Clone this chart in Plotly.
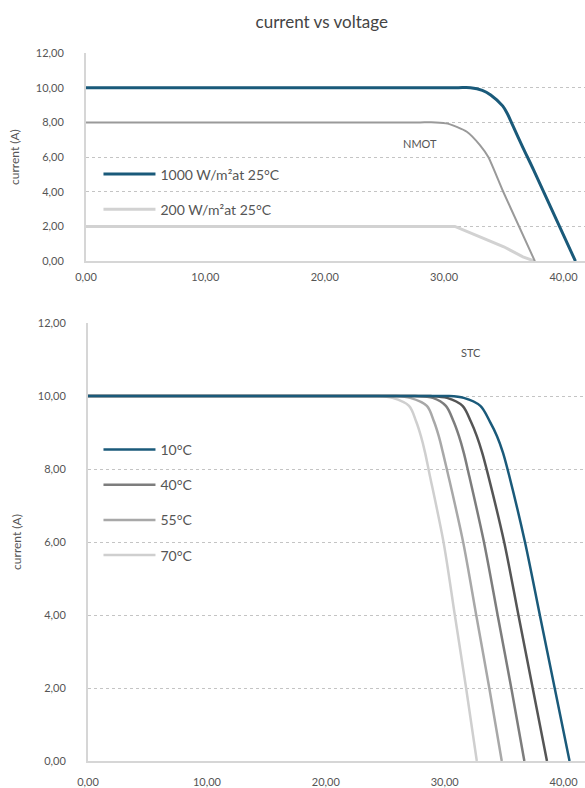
import plotly.graph_objects as go

# ---- top chart data (irradiance) ----
v_1000 = [0, 10, 20, 30, 31.2, 32.2, 33.2, 33.9, 34.9, 35.3, 35.7, 36.6, 37.5, 41.0]
i_1000 = [10, 10, 10, 10, 10, 10, 9.85, 9.58, 8.95, 8.5, 7.9, 6.55, 5.25, 0]
v_nmot = [0, 10, 20, 26.0, 28.0, 29.3, 30.3, 31.9, 33.0, 33.7, 34.95, 37.6]
i_nmot = [8, 8, 8, 8, 8, 8, 7.93, 7.46, 6.69, 6.0, 4.0, 0]
v_200 = [0, 30.9, 33.0, 35.0, 36.6, 37.6]
i_200 = [2, 2, 1.4, 0.83, 0.25, 0]

# ---- bottom chart data (temperature) ----
v_10 = [0, 10, 20, 28.8, 30.2, 31.6, 33.0, 33.8, 34.4, 34.9, 35.4, 36.75, 38.0, 39.25, 40.5]
i_10 = [10, 10, 10, 10, 10, 9.95, 9.73, 9.3, 8.9, 8.45, 7.85, 6.0, 4.0, 2.0, 0]
v_25 = [0, 10, 20, 27.4, 28.8, 30.2, 31.5, 32.2, 32.7, 33.15, 33.6, 35.0, 36.2, 37.4, 38.6]
i_25 = [10, 10, 10, 10, 10, 9.95, 9.73, 9.3, 8.9, 8.45, 7.9, 6.0, 4.0, 2.0, 0]
v_40 = [0, 10, 20, 26.1, 27.5, 29.0, 30.1, 30.75, 31.2, 31.6, 32.0, 33.3, 34.45, 35.6, 36.7]
i_40 = [10, 10, 10, 10, 10, 9.95, 9.73, 9.3, 8.9, 8.45, 7.9, 6.0, 4.0, 2.0, 0]
v_55 = [0, 10, 20, 24.5, 25.8, 27.1, 28.5, 29.1, 29.5, 29.85, 30.25, 31.55, 32.65, 33.75, 34.8]
i_55 = [10, 10, 10, 10, 10, 9.95, 9.73, 9.3, 8.9, 8.45, 7.9, 6.0, 4.0, 2.0, 0]
v_70 = [0, 10, 20, 23.0, 24.2, 25.6, 27.0, 27.6, 28.0, 28.35, 28.7, 29.9, 30.85, 31.8, 32.7]
i_70 = [10, 10, 10, 10, 10, 9.95, 9.73, 9.3, 8.9, 8.45, 7.9, 6.0, 4.0, 2.0, 0]

y_ticks = [0, 2, 4, 6, 8, 10, 12]
x_ticks = [0, 10, 20, 30, 40]
grid_vals = [2, 4, 6, 8, 10]

BLUE = "#1a5a7a"
FONT = "Lato"

fig = go.Figure()

def add(x, y, name, color, width, xa, ya, legend, show=True, rank=1000,
        shape="spline", sm=0.7):
    fig.add_trace(go.Scatter(
        x=x, y=y, mode="lines", name=name,
        line=dict(color=color, width=width, shape=shape,
                  smoothing=sm if shape == "spline" else None),
        xaxis=xa, yaxis=ya, legend=legend, showlegend=show,
        legendgroup=name, legendrank=rank, hoverinfo="x+y",
    ))

# top
add(v_200, i_200, "200 W/m²at 25°C", "#d2d2d2", 3, "x", "y", "legend", True, 2, shape="linear")
add(v_nmot, i_nmot, "NMOT", "#9a9a9a", 2, "x", "y", "legend", False, 3, sm=0.6)
add(v_1000, i_1000, "1000 W/m²at 25°C", BLUE, 3, "x", "y", "legend", True, 1, sm=0.9)

# bottom
add(v_70, i_70, "70°C", "#cfcfcf", 2.5, "x2", "y2", "legend2", True, 4, sm=0.9)
add(v_55, i_55, "55°C", "#a8a8a8", 2.5, "x2", "y2", "legend2", True, 3, sm=0.9)
add(v_40, i_40, "40°C", "#7d7d7d", 2.5, "x2", "y2", "legend2", True, 2, sm=0.9)
add(v_25, i_25, "25°C", "#555555", 2.5, "x2", "y2", "legend2", False, 5, sm=0.9)
add(v_10, i_10, "10°C", BLUE, 2.5, "x2", "y2", "legend2", True, 1, sm=0.9)

tickfont = dict(family=FONT, size=11, color="#555555")

def xaxis(anchor, domain_x, standoff):
    return dict(
        domain=domain_x, anchor=anchor, range=[0, 41.8], automargin=False,
        tickvals=x_ticks, tickformat=".2f", tickfont=tickfont,
        showgrid=False, zeroline=False, showline=True,
        linecolor="#d6d6d6", linewidth=2, ticks="", ticklabelstandoff=standoff,
    )

def yaxis(anchor, domain_y):
    return dict(
        domain=domain_y, anchor=anchor, range=[0, 12], automargin=False,
        tickvals=y_ticks, tickformat=".2f", tickfont=tickfont,
        showgrid=False, zeroline=False, showline=True,
        linecolor="#d6d6d6", linewidth=2, ticks="", ticklabelstandoff=18,
        minor=dict(tickvals=grid_vals, showgrid=True, gridcolor="#c4c4c4",
                   griddash="dot", gridwidth=1),
        title=dict(text="current (A)", font=dict(family=FONT, size=12, color="#555555"),
                   standoff=14),
    )

legend_common = dict(xanchor="left", yanchor="top",
                     font=dict(family=FONT, size=14, color="#555555"),
                     bgcolor="rgba(0,0,0,0)", traceorder="grouped",
                     tracegroupgap=14, itemwidth=52)

fig.update_layout(
    width=585, height=788,
    margin=dict(l=86, r=0, t=53, b=27),
    paper_bgcolor="white", plot_bgcolor="white",
    separators=", ",
    font=dict(family=FONT, color="#555555"),
    title=dict(text="current vs voltage", x=0.55, xref="container", xanchor="center",
               y=0.972, yref="container", yanchor="middle",
               font=dict(family=FONT, size=17, color="#444444")),
    xaxis=xaxis("y", [0, 1], 5),
    yaxis=yaxis("x", [0.706, 1]),
    xaxis2=xaxis("y2", [0.004, 1], 10),
    yaxis2=yaxis("x2", [0, 0.6186]),
    legend=dict(x=0.025, y=0.851, **legend_common),
    legend2=dict(x=0.025, y=0.462, **legend_common),
    annotations=[
        dict(text="NMOT", x=28.0, y=6.8, xref="x", yref="y", showarrow=False,
             font=dict(family=FONT, size=11, color="#555555")),
        dict(text="STC", x=32.2, y=11.2, xref="x2", yref="y2", showarrow=False,
             font=dict(family=FONT, size=11, color="#555555")),
    ],
)

fig.write_html("out.html", config={"displayModeBar": False},
               post_script="document.body.style.margin='0';")
